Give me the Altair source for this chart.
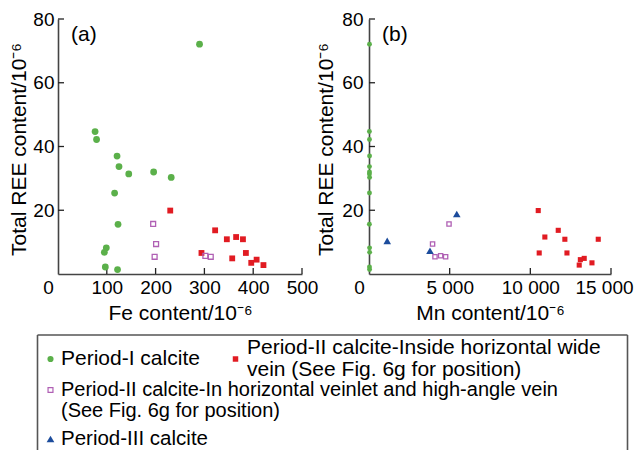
import altair as alt
import pandas as pd

# ---------------- data ----------------
# Period-I calcite
p1_ree = [72.1, 44.7, 42.2, 37.0, 33.7, 31.4, 32.0, 30.3, 25.4, 15.6, 8.2, 6.8, 2.2, 1.4]
p1_fe = [290, 76, 79, 121, 125, 145, 196, 232, 116, 123, 99, 95, 97, 122]
p1_mn = [30, 25, 30, 35, 30, 25, 30, 35, 30, 25, 35, 40, 30, 35]
# Period-II calcite - inside horizontal wide vein
p2w_ree = [19.9, 13.7, 10.9, 11.6, 10.9, 6.6, 6.6, 4.9, 3.5, 4.5, 2.8]
p2w_fe = [230, 322, 346, 365, 379, 294, 385, 357, 396, 407, 421]
p2w_mn = [10490, 11730, 12140, 10900, 14210, 10550, 12270, 13340, 13820, 13100, 13030]
# Period-II calcite - horizontal veinlet and high-angle vein
p2v_ree = [15.7, 9.4, 5.4, 5.7, 5.4]
p2v_fe = [195, 201, 198, 302, 313]
p2v_mn = [4960, 3940, 4090, 4440, 4750]
# Period-III calcite (Mn panel only)
p3_ree = [10.4, 7.3, 18.8]
p3_mn = [1130, 3780, 5440]

fe_ticks = [0, 100, 200, 300, 400, 500]
mn_ticks = [0, 5000, 10000, 15000]
ree_ticks = [20, 40, 60, 80]
panel_labels = ["(a)", "(b)"]
x_titles = ["Fe content/10⁻⁶", "Mn content/10⁻⁶"]
y_title = "Total REE content/10⁻⁶"
legend_labels = [
    "Period-I calcite",
    "Period-II calcite-Inside horizontal wide\nvein (See Fig. 6g for position)",
    "Period-II calcite-In horizontal veinlet and high-angle vein\n(See Fig. 6g for position)",
    "Period-III calcite",
]

GREEN = "#5bb04a"
RED = "#e11b22"
PURPLE = "#b060b4"
BLUE = "#1c4c9c"
FONT = "Liberation Sans"
H = 255
W_A, W_B = 244, 242
GAP = 67
one = pd.DataFrame({"a": [0]})


def sym(shape, color, filled, size, sw=1.3, data=None):
    d = one if data is None else data
    if filled:
        return alt.Chart(d).mark_point(shape=shape, filled=True, fill=color, opacity=1, size=size, strokeWidth=0)
    return alt.Chart(d).mark_point(shape=shape, filled=False, stroke=color, opacity=1, size=size, strokeWidth=sw)


def make_panel(xmax, xticks, xtitle, width, label, series, off_expr, title_x, lab_pad, extra):
    xenc = alt.X(
        "x:Q",
        scale=alt.Scale(domain=[0, xmax], nice=False, zero=False),
        axis=alt.Axis(
            values=xticks, title=xtitle, ticks=False, tickSize=0, grid=False,
            labelFlush=False, labelOverlap=False, labelPadding=4,
            labelExpr="replace(format(datum.value, ','), ',', ' ')",
            labelOffset=off_expr,
            titleFontSize=21, titleBaseline="alphabetic", titleY=45, titleX=width / 2,
        ),
    )
    yenc = alt.Y(
        "y:Q",
        scale=alt.Scale(domain=[0, 80], nice=False),
        axis=alt.Axis(
            values=ree_ticks, title=y_title, ticks=False, tickSize=0, grid=False,
            labelPadding=lab_pad, titleFontSize=21, titleBaseline="alphabetic",
            titleAngle=270, titleX=title_x, titleY=130,
        ),
    )
    layers = []
    for xs, ys, shape, color, filled, size in series:
        df = pd.DataFrame({"x": xs, "y": ys})
        layers.append(sym(shape, color, filled, size, data=df).encode(x=xenc, y=yenc))
    ytk = alt.Chart(pd.DataFrame({"y": ree_ticks})).mark_rule(color="#222", strokeWidth=1.3).encode(
        y=yenc, x=alt.value(0), x2=alt.value(6))
    xtk = alt.Chart(pd.DataFrame({"x": xticks[1:]})).mark_rule(color="#222", strokeWidth=1.3).encode(
        x=xenc, y=alt.value(H), y2=alt.value(H - 6))
    lab = alt.Chart(pd.DataFrame({"t": [label]})).mark_text(
        align="left", baseline="middle", fontSize=21, font=FONT, color="black").encode(
        x=alt.value(13), y=alt.value(16), text="t")
    return alt.layer(ytk, xtk, *layers, lab, *extra).properties(width=width, height=H)


# ---------------- legend (drawn below panel a, positions relative to its plot origin) ----------------
BOX = "#555"
anchor = alt.Chart(one).mark_rule(color="white", strokeWidth=1).encode(
    x=alt.value(-57), y=alt.value(-18), y2=alt.value(-16))
box_top = alt.Chart(one).mark_rule(color=BOX, strokeWidth=1.6).encode(
    x=alt.value(-20.5), x2=alt.value(569.5), y=alt.value(316))
box_left = alt.Chart(one).mark_rule(color=BOX, strokeWidth=1.6).encode(
    x=alt.value(-20.5), y=alt.value(316), y2=alt.value(432))
box_right = alt.Chart(one).mark_rule(color=BOX, strokeWidth=1.6).encode(
    x=alt.value(569.5), y=alt.value(316), y2=alt.value(432))

sym_specs = [
    ("circle", GREEN, True, 38, -7.5, 340),
    ("square", RED, True, 30, 177.5, 340),
    ("square", PURPLE, False, 24, -7.5, 371),
    ("triangle-up", BLUE, True, 60, -7.5, 420),
]
text_specs = [(3, 340, 21, 22), (189, 329, 21, 22), (3, 371, 20, 21), (3, 420, 20.5, 22)]
legend_layers = [anchor, box_top, box_left, box_right]
for (shape, color, filled, size, sx, sy), lbl, (tx, ty, fs, lh) in zip(sym_specs, legend_labels, text_specs):
    legend_layers.append(sym(shape, color, filled, size, sw=1.2).encode(x=alt.value(sx), y=alt.value(sy)))
    legend_layers.append(
        alt.Chart(pd.DataFrame({"t": [lbl]})).mark_text(
            align="left", baseline="middle", fontSize=fs, font=FONT, color="black",
            lineBreak="\n", lineHeight=lh).encode(x=alt.value(tx), y=alt.value(ty), text="t"))

pa = make_panel(
    500, fe_ticks, x_titles[0], W_A, panel_labels[0],
    [
        (p1_fe, p1_ree, "circle", GREEN, True, 46),
        (p2w_fe, p2w_ree, "square", RED, True, 34),
        (p2v_fe, p2v_ree, "square", PURPLE, False, 24),
    ],
    {"condition": {"test": "datum.value === 0", "value": -10}, "value": 0},
    -33, 4, legend_layers,
)
pb = make_panel(
    15000, mn_ticks, x_titles[1], W_B, panel_labels[1],
    [
        (p1_mn, p1_ree, "circle", GREEN, True, 24),
        (p2w_mn, p2w_ree, "square", RED, True, 26),
        (p2v_mn, p2v_ree, "square", PURPLE, False, 18),
        (p3_mn, p3_ree, "triangle-up", BLUE, True, 58),
    ],
    {"condition": [{"test": "datum.value === 0", "value": -10},
                   {"test": "datum.value === 15000", "value": -7}], "value": 0},
    -36.8, 6, [],
)

chart = alt.hconcat(pa, pb, spacing=GAP, bounds="flush").properties(
    padding={"left": 0, "top": 0, "right": 0, "bottom": 0}
).configure_view(stroke=None).configure_axis(
    labelFont=FONT, titleFont=FONT, labelFontSize=19, titleFontSize=21,
    labelColor="black", titleColor="black", titleFontWeight="normal",
    domainColor="#444", domainWidth=1.6,
)

chart.save("out.html", embed_options={"renderer": "svg", "actions": False})
